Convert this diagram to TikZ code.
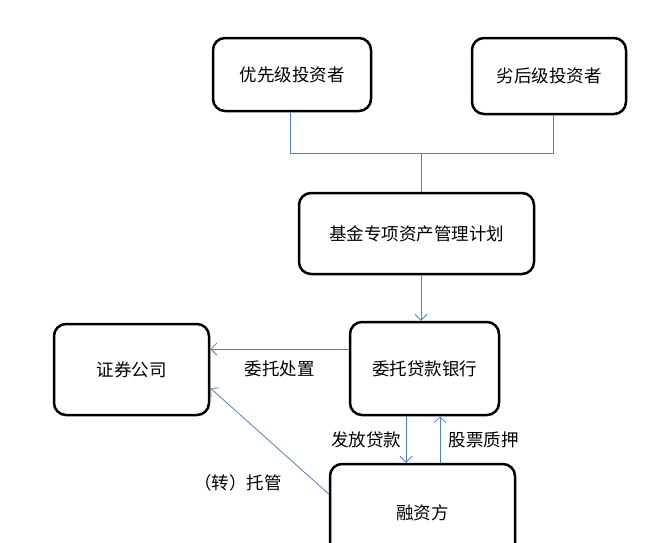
\documentclass[tikz,border=0pt]{standalone}
\usepackage{fontspec}
\setmainfont{Noto Sans CJK SC}
\usepackage{tikz}
\usetikzlibrary{positioning, arrows.meta}
\definecolor{linkblue}{RGB}{79,129,189}

\begin{document}
\begin{tikzpicture}[x=1pt, y=-1pt]
    \tikzstyle{party} = [rectangle, draw=black, line width=2.5pt, fill=white, rounded corners=12pt, align=center, font=\fontsize{17.5}{20}\selectfont]
    \tikzstyle{link} = [draw=linkblue, line width=0.8pt]
    \tikzstyle{arrow} = [link, -{Straight Barb[length=6pt, width=12pt]}]
    \tikzstyle{tag} = [font=\fontsize{17.5}{20}\selectfont]

    \clip (0,0) rectangle (658,542);
    \useasboundingbox (0,0) rectangle (658,542);

    \node [party, minimum width=158pt, minimum height=73pt] (senior) at (292,74.5) {优先级投资者};
    \node [party, minimum width=154pt, minimum height=76pt] (junior) at (549,76) {劣后级投资者};
    \node [party, minimum width=235pt, minimum height=81pt] (plan) at (416.5,233.5) {基金专项资产管理计划};
    \node [party, minimum width=149pt, minimum height=93pt] (bank) at (424.5,368.5) {委托贷款银行};
    \node [party, minimum width=155pt, minimum height=91pt] (broker) at (131.5,369.5) {证券公司};
    \node [party, minimum width=185pt, minimum height=98pt] (borrower) at (422.5,513) {融资方};
    \coordinate (join) at (421,153);

    \draw [link] ([xshift=-2pt]senior.south) |- (join);
    \draw [link] ([xshift=4pt]junior.south) |- (join);
    \draw [link] (join) -- (join |- plan.north);
    \draw [arrow] ([xshift=4.5pt]plan.south) -- ([xshift=4.5pt]plan.south |- bank.north);
    \draw [arrow] ([yshift=19.5pt]bank.west) -- ([yshift=19.5pt]bank.west -| broker.east) node [tag, midway, below=8pt] {委托处置};
    \draw [arrow] ([xshift=-18.5pt]bank.south) -- ([xshift=-18.5pt]bank.south |- borrower.north) node [tag, midway, left=1pt] {发放贷款};
    \draw [arrow] ([xshift=15.5pt]bank.south |- borrower.north) -- ([xshift=15.5pt]bank.south) node [tag, midway, right=5pt] {股票质押};
    \draw [arrow] ([yshift=19pt]borrower.west) -- ([yshift=-18.5pt]broker.east) node [tag, pos=0.35, below left=14pt and 2pt] {（转）托管};
\end{tikzpicture}
\end{document}
